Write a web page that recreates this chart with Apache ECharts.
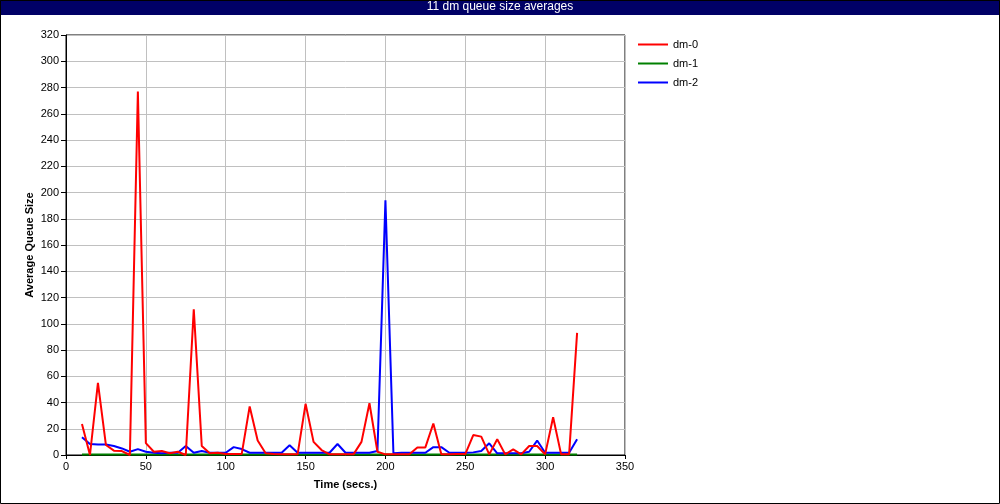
<!DOCTYPE html>
<html><head><meta charset="utf-8">
<script src="https://cdn.jsdelivr.net/npm/echarts@6/dist/echarts.min.js"></script>
<style>html,body{margin:0;padding:0;background:#fff}#c{width:1000px;height:504px}</style>
</head><body><div id="c"></div>
<script>
const times = [10,15,20,25,30,35,40,45,50,55,60,65,70,75,80,85,90,95,100,105,110,115,120,125,130,135,140,145,150,155,160,165,170,175,180,185,190,195,200,205,210,215,220,225,230,235,240,245,250,255,260,265,270,275,280,285,290,295,300,305,310,315,320];
const dm0 = [23.6,0,55,7.6,3.3,3,0,277,9,2.5,3,1.3,2.5,0,111,6.9,1.3,1.7,0.7,0.7,0.7,37,11,1.3,0.7,0.5,0.5,0.5,39,10,3.8,0.5,0.5,0.5,0.5,10,39.4,2.5,0.5,0.5,0.5,0.5,5.8,5.8,24,0.5,0.5,0.7,0.7,15.2,14,0.5,12,0.5,4.3,0.5,6.9,6.9,0.5,28.7,0.5,0.5,93];
const dm1 = times.map(() => 0.3);
const dm2 = [13.5,8.4,8,8,6.9,5,2.5,4.5,2.5,1.7,1.3,1.7,1.7,6.9,1.7,3,1.7,1.7,1.7,6,4.5,1.7,1.7,1.7,1.7,1.7,7.4,1.7,1.7,1.7,1.7,1.7,8.4,1.7,1.7,1.7,1.7,3,194,1.3,1.7,1.7,1.7,1.7,6,6,1.7,1.7,1.7,2,3,8.9,1.3,1.3,1.3,1.3,2.5,11,1.7,1.7,1.7,1.7,12];
const xTicks = {min:0, max:350, interval:50};
const yTicks = {min:0, max:320, interval:20};
const title = '11 dm queue size averages';
const xName = 'Time (secs.)';
const yName = 'Average Queue Size';

const pair = a => times.map((t,i)=>[t,a[i]]);
const font = 'Liberation Sans, Arial, sans-serif';
const chart = echarts.init(document.getElementById('c'), null, {renderer:'canvas'});
chart.setOption({
  animation:false,
  graphic:[
    {type:'rect', shape:{x:0,y:0,width:1000,height:15}, style:{fill:'#000066'}, z:0},
    {type:'rect', shape:{x:0.5,y:0.5,width:999,height:503}, style:{fill:'none',stroke:'#000',lineWidth:1}, z:10},
    {type:'text', x:30, y:245, rotation:Math.PI/2, style:{text:yName, fill:'#000', font:'bold 11px ' + font, align:'center', verticalAlign:'middle'}, z:10}
  ],
  title:{text:title, left:'center', top:1, padding:0, textStyle:{color:'#fff', fontSize:12, fontWeight:'normal', fontFamily:font}},
  legend:{orient:'vertical', left:638, top:39, padding:0, itemGap:8, itemWidth:30, itemHeight:2, icon:'rect',
    textStyle:{fontSize:11, fontFamily:font, color:'#000'},
    data:['dm-0','dm-1','dm-2']},
  grid:{left:66, top:35, right:375, bottom:49, show:true, borderColor:'#000', borderWidth:1, containLabel:false},
  xAxis:{type:'value', min:xTicks.min, max:xTicks.max, interval:xTicks.interval,
    name:xName, nameLocation:'middle', nameGap:24,
    nameTextStyle:{fontWeight:'bold', fontSize:11, fontFamily:font, color:'#000'},
    axisLine:{lineStyle:{color:'#000'}}, axisTick:{length:4, lineStyle:{color:'#000'}},
    axisLabel:{fontSize:11, fontFamily:font, color:'#000', margin:6},
    splitLine:{show:true, lineStyle:{color:'#c0c0c0'}}},
  yAxis:{type:'value', min:yTicks.min, max:yTicks.max, interval:yTicks.interval,
    axisLine:{show:true, lineStyle:{color:'#000'}}, axisTick:{show:true, length:5, lineStyle:{color:'#000'}},
    axisLabel:{fontSize:11, fontFamily:font, color:'#000', margin:7},
    splitLine:{show:true, lineStyle:{color:'#c0c0c0'}}},
  series:[
    {name:'dm-0', type:'line', data:pair(dm0), showSymbol:false, symbol:'none', color:'#ff0000', lineStyle:{width:2,color:'#ff0000'}, z:3},
    {name:'dm-1', type:'line', data:pair(dm1), showSymbol:false, symbol:'none', color:'#008000', lineStyle:{width:2,color:'#008000'}, z:1},
    {name:'dm-2', type:'line', data:pair(dm2), showSymbol:false, symbol:'none', color:'#0000ff', lineStyle:{width:2,color:'#0000ff'}, z:2}
  ]
});
</script></body></html>
